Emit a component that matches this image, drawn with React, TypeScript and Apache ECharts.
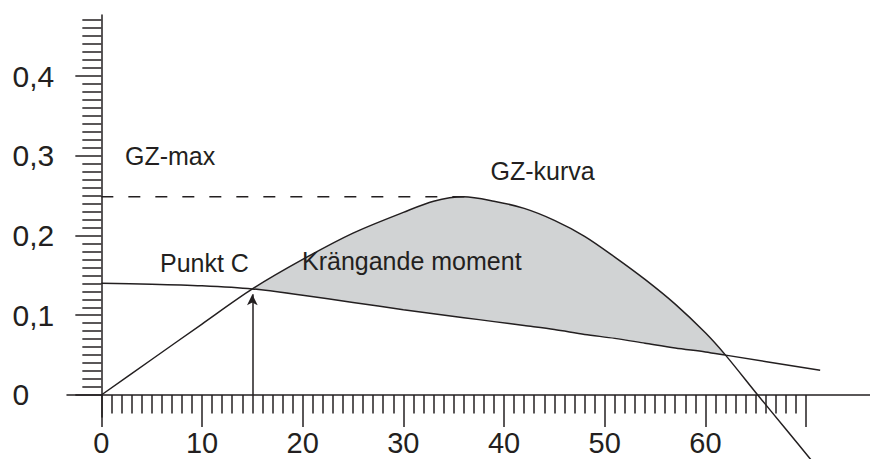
import React, { useEffect, useRef } from "react";
import * as echarts from "echarts";

// ---- data ----
const gzAngles = [0, 5, 10, 15, 20, 25, 30, 33, 36, 39, 42, 45, 48, 51, 54, 57, 60, 62, 65.2, 68, 70.6];
const gzValues = [0, 0.0445, 0.089, 0.133, 0.17, 0.203, 0.229, 0.243, 0.2485, 0.243, 0.234, 0.219, 0.199, 0.173, 0.145, 0.114, 0.078, 0.05, 0, -0.043, -0.083];

const heelAngles = [0, 5, 10, 15, 20, 25, 30, 33, 36, 39, 42, 45, 48, 51, 54, 57, 60, 62, 71.4];
const heelValues = [0.14, 0.139, 0.137, 0.133, 0.125, 0.116, 0.107, 0.102, 0.097, 0.092, 0.087, 0.082, 0.076, 0.071, 0.065, 0.059, 0.054, 0.05, 0.031];

const gzMaxValue = 0.2485;
const gzMaxSpan = [0, 37];
const pointC = [15, 0.133];
const fillRange = [15, 62];

const xMajorTicks = [0, 10, 20, 30, 40, 50, 60, 70];
const xLabelValues = [0, 10, 20, 30, 40, 50, 60];
const xLabels = ["0", "10", "20", "30", "40", "50", "60"];
const yLabelValues = [0, 0.1, 0.2, 0.3, 0.4];
const yLabels = ["0", "0,1", "0,2", "0,3", "0,4"];

const annotations = ["GZ-max", "Punkt C", "Krängande moment", "GZ-kurva"];

// minor tick positions (every degree / every 0.01)
const xMinorTicks: number[] = [];
for (let i = 1; i < 70; i++) if (i % 10 !== 0) xMinorTicks.push(i);
const yMinorTicks: number[] = [];
for (let i = 1; i <= 47; i++) if (i % 10 !== 0) yMinorTicks.push(i / 100);

const INK = "#231f20";
const FILL = "#d1d3d4";
const FONT = '"Liberation Sans", Arial, Helvetica, sans-serif';

const X_MIN = -3.41;
const X_MAX = 76.35;
const Y_MIN = -0.0276;
const Y_MAX = 0.4765;

export default function App() {
  const ref = useRef<HTMLDivElement>(null);

  useEffect(() => {
    if (!ref.current) return;
    const chart = echarts.init(ref.current, undefined, { renderer: "svg" });

    const inFill = (a: number) => a >= fillRange[0] && a <= fillRange[1];
    const gzFill = gzAngles.map((a, i) => [a, gzValues[i]]).filter((p) => inFill(p[0]));
    const heelAll = heelAngles.map((a, i) => [a, heelValues[i]]);

    const lineStyle = { color: INK, width: 1.5 };
    const lookup = (vals: number[], labels: string[]) => (v: number) => {
      const i = vals.findIndex((t) => Math.abs(t - v) < 1e-9);
      return i >= 0 ? labels[i] : "";
    };

    const textEl = (text: string, x: number, y: number) => ({
      type: "text",
      x,
      y,
      z: 100,
      silent: true,
      style: {
        text,
        fill: INK,
        fontSize: 25,
        fontFamily: FONT,
        verticalAlign: "middle",
        align: "left",
      },
    });

    const option: any = {
      animation: false,
      backgroundColor: "#ffffff",
      grid: {
        left: 67,
        right: 0,
        top: 15,
        bottom: 42,
        containLabel: false,
        outerBoundsMode: "none",
      },
      xAxis: [
        {
          type: "value",
          position: "bottom",
          z: 5,
          min: X_MIN,
          max: X_MAX,
          axisLine: { show: true, onZero: true, onZeroAxisIndex: 0, lineStyle },
          axisTick: { show: true, customValues: xMajorTicks, length: 32, inside: false, lineStyle },
          axisLabel: {
            show: true,
            customValues: xLabelValues,
            formatter: lookup(xLabelValues, xLabels),
            margin: 25.5,
            verticalAlign: "middle",
            lineHeight: 22,
            fontSize: 29,
            fontFamily: FONT,
            color: INK,
          },
          splitLine: { show: false },
        },
        {
          type: "value",
          position: "bottom",
          z: 5,
          min: X_MIN,
          max: X_MAX,
          axisLine: { show: false, onZero: true, onZeroAxisIndex: 0 },
          axisTick: { show: true, customValues: xMinorTicks, length: 18.5, inside: false, lineStyle },
          axisLabel: { show: false },
          splitLine: { show: false },
        },
      ],
      yAxis: [
        {
          type: "value",
          position: "left",
          z: 5,
          min: Y_MIN,
          max: Y_MAX,
          axisLine: { show: true, onZero: true, onZeroAxisIndex: 0, lineStyle },
          axisTick: { show: true, customValues: yLabelValues, length: 26, inside: false, lineStyle },
          axisLabel: {
            show: true,
            customValues: yLabelValues,
            formatter: lookup(yLabelValues, yLabels),
            margin: 54.5,
            align: "left",
            verticalAlign: "middle",
            fontSize: 30,
            fontFamily: FONT,
            color: INK,
          },
          splitLine: { show: false },
        },
        {
          type: "value",
          position: "left",
          z: 5,
          min: Y_MIN,
          max: Y_MAX,
          axisLine: { show: false, onZero: true, onZeroAxisIndex: 0 },
          axisTick: { show: true, customValues: yMinorTicks, length: 19, inside: false, lineStyle },
          axisLabel: { show: false },
          splitLine: { show: false },
        },
      ],
      series: [
        {
          type: "line",
          name: "fillUnderGZ",
          data: gzFill,
          smooth: 0.3,
          symbol: "none",
          showSymbol: false,
          lineStyle: { opacity: 0, width: 0 },
          areaStyle: { color: FILL, opacity: 1 },
          silent: true,
          z: 1,
        },
        {
          type: "line",
          name: "maskUnderHeel",
          data: heelAll,
          smooth: 0.3,
          symbol: "none",
          showSymbol: false,
          lineStyle: { opacity: 0, width: 0 },
          areaStyle: { color: "#ffffff", opacity: 1 },
          silent: true,
          z: 2,
        },
        {
          type: "line",
          name: "GZ-kurva",
          data: gzAngles.map((a, i) => [a, gzValues[i]]),
          smooth: 0.3,
          symbol: "none",
          showSymbol: false,
          clip: false,
          lineStyle,
          silent: true,
          z: 3,
        },
        {
          type: "line",
          name: "Krängande moment",
          data: heelAll,
          smooth: 0.3,
          symbol: "none",
          showSymbol: false,
          clip: false,
          lineStyle,
          silent: true,
          z: 3,
        },
        {
          type: "line",
          name: "GZ-max",
          data: gzMaxSpan.map((a) => [a, gzMaxValue]),
          symbol: "none",
          showSymbol: false,
          lineStyle: { color: INK, width: 1.5, type: [12, 15] },
          silent: true,
          z: 3,
          markLine: {
            silent: true,
            symbol: ["none", "arrow"],
            symbolSize: [8, 11],
            label: { show: false },
            lineStyle: { color: INK, width: 1.5, type: "solid" },
            emphasis: { disabled: true },
            data: [[{ coord: [pointC[0], 0] }, { coord: [pointC[0], pointC[1] - 0.0068] }]],
          },
        },
      ],
      graphic: [
        textEl(annotations[0], 125, 156.3),
        textEl(annotations[1], 160, 263),
        textEl(annotations[2], 302, 261.3),
        textEl(annotations[3], 490.5, 170.6),
      ],
    };

    chart.setOption(option);
    return () => chart.dispose();
  }, []);

  return (
    <div
      ref={ref}
      style={{ position: "fixed", left: 0, top: 0, width: 870, height: 459, background: "#fff" }}
    />
  );
}
